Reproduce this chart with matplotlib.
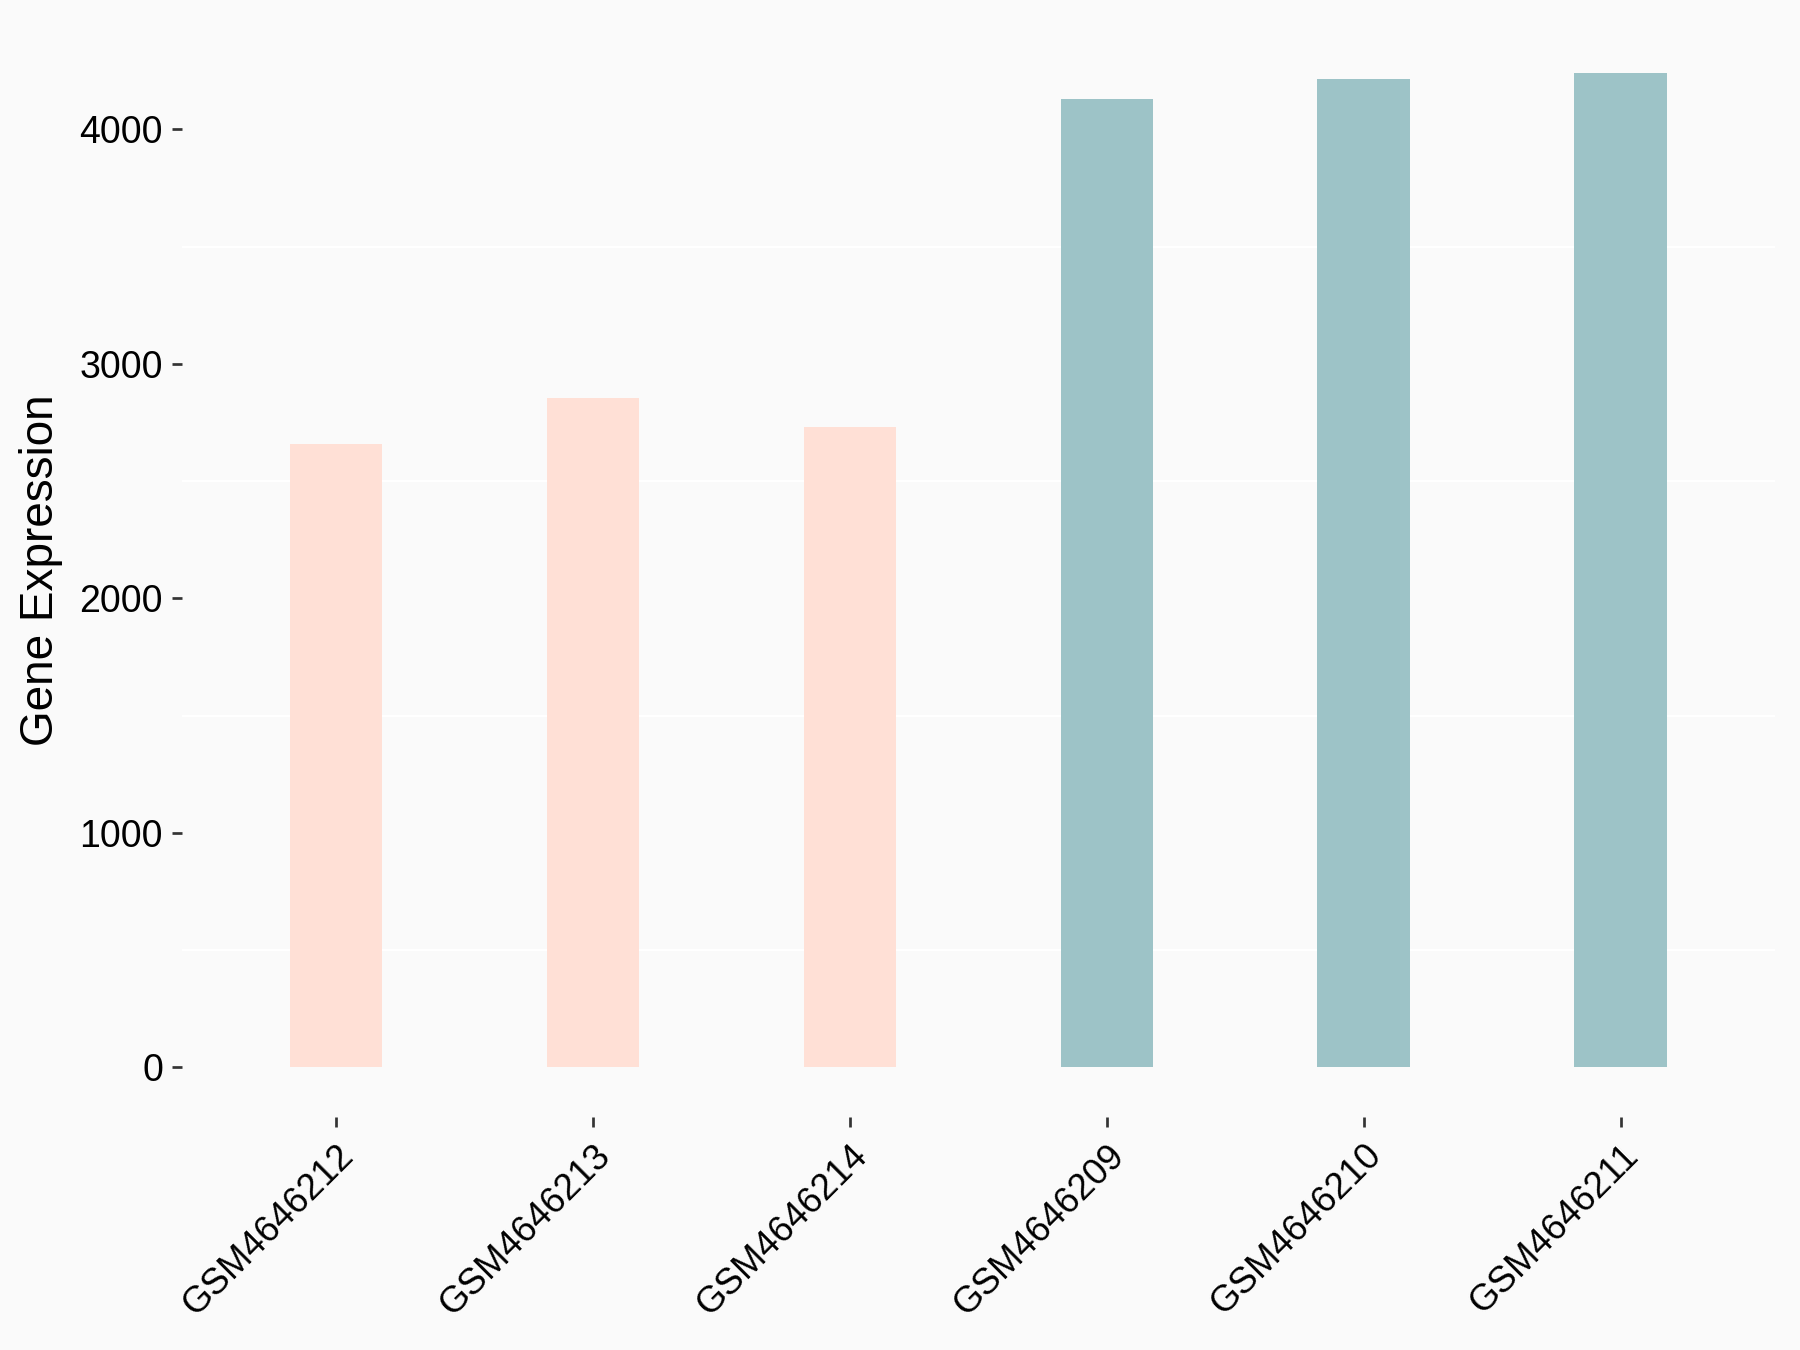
import matplotlib.pyplot as plt
from matplotlib.ticker import MultipleLocator

muestras = ["GSM4646212", "GSM4646213", "GSM4646214",
            "GSM4646209", "GSM4646210", "GSM4646211"]
expresion = [2660, 2856, 2729, 4132, 4215, 4240]
grupos = ["a", "a", "a", "b", "b", "b"]
colores_grupo = {"a": "#FFE0D6", "b": "#9DC3C7"}

plt.rcParams['font.family'] = ['Liberation Sans', 'DejaVu Sans']

fig = plt.figure(figsize=(12, 9), dpi=150, facecolor="#FAFAFA")
ax = fig.add_axes([0.101, 0.1726, 0.885, 0.81])
ax.set_facecolor("#FAFAFA")

posiciones = list(range(len(muestras)))
ax.bar(posiciones, expresion, width=0.36,
       color=[colores_grupo[g] for g in grupos], zorder=2)

ymax = max(expresion)
ax.set_xlim(-0.6, len(muestras) - 0.4)
ax.set_ylim(-0.05 * ymax, 1.05 * ymax)

ax.yaxis.set_major_locator(MultipleLocator(1000))
ax.yaxis.set_minor_locator(MultipleLocator(500))
ax.grid(which="minor", axis="y", color="white", linewidth=1.0, zorder=0)
ax.grid(which="major", visible=False)

for lado in ax.spines.values():
    lado.set_visible(False)

ax.set_xticks(posiciones)
ax.set_xticklabels(muestras, rotation=45, ha="right", rotation_mode="anchor")
ax.tick_params(axis="both", which="major", color="#333333",
               width=1.3, length=5, labelcolor="black")
ax.tick_params(axis="y", which="major", labelsize=18, pad=4)
ax.tick_params(axis="x", which="major", labelsize=17.5, pad=5)
ax.tick_params(axis="y", which="minor", length=0)

ax.set_ylabel("Gene Expression", fontsize=22, labelpad=8)

fig.savefig("out.png", dpi=150, facecolor=fig.get_facecolor())
